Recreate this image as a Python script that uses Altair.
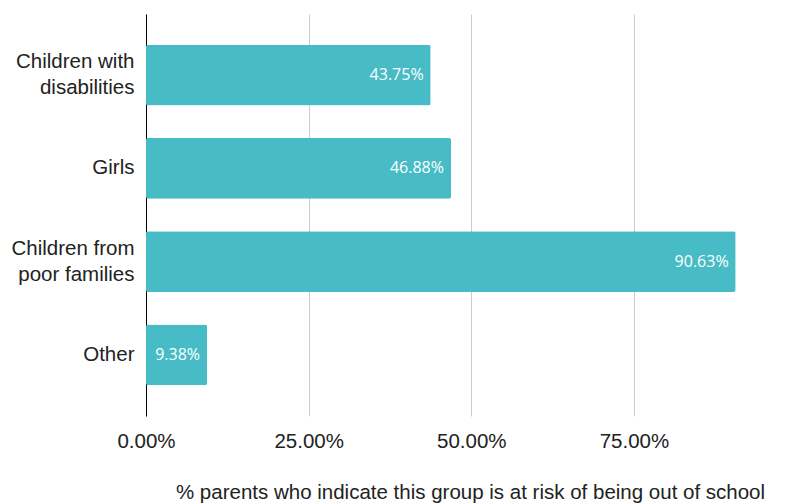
import altair as alt
import pandas as pd

categories = ["Children with\ndisabilities", "Girls", "Children from\npoor families", "Other"]
values = [43.75, 46.88, 90.63, 9.38]
tick_values = [0, 25, 50, 75]

df = pd.DataFrame({"group": categories, "pct": values})
df["label"] = [f"{v:.2f}%" for v in values]

color = "#47BCC6"
font = "Liberation Sans"

y_enc = alt.Y(
    "group:N",
    sort=categories,
    title=None,
    scale=alt.Scale(paddingInner=0.35, paddingOuter=0.33),
    axis=alt.Axis(
        labelExpr="split(datum.label, '\\n')",
        labelFont=font,
        labelFontSize=20.5,
        labelColor="#222222",
        labelPadding=12,
        labelOffset={"condition": {"test": "indexof(datum.value, '\\n') >= 0", "value": -13}, "value": 0},
        ticks=False,
        domain=True,
        domainColor="#000000",
        domainWidth=1,
        grid=False,
        labelLineHeight=26,
    ),
)

x_enc = alt.X(
    "pct:Q",
    scale=alt.Scale(domain=[0, 99.6], nice=False),
    title="% parents who indicate this group is at risk of being out of school",
    axis=alt.Axis(
        values=tick_values,
        labelExpr="format(datum.value, '.2f') + '%'",
        labelFont=font,
        labelFontSize=20.5,
        labelColor="#222222",
        labelPadding=15,
        labelFlush=False,
        ticks=False,
        domain=False,
        grid=True,
        gridColor="#cccccc",
        gridWidth=1,
        titleFont=font,
        titleFontSize=20.5,
        titleFontWeight="normal",
        titleColor="#222222",
        titlePadding=31,
    ),
)

bars = alt.Chart(df).mark_bar(color=color, cornerRadius=2).encode(x=x_enc, y=y_enc)

text = alt.Chart(df).mark_text(
    align="right", baseline="middle", dx=-7, color="white", font="Open Sans", fontSize=16
).encode(x="pct:Q", y=alt.Y("group:N", sort=categories), text="label:N")

chart = (
    alt.layer(bars, text)
    .properties(
        width=648,
        height=402,
        autosize=alt.AutoSizeParams(type="none"),
        padding={"left": 146, "top": 14, "right": 0, "bottom": 88},
    )
    .configure_view(stroke=None)
)

chart.save("out.html", embed_options={"renderer": "svg", "actions": False})
